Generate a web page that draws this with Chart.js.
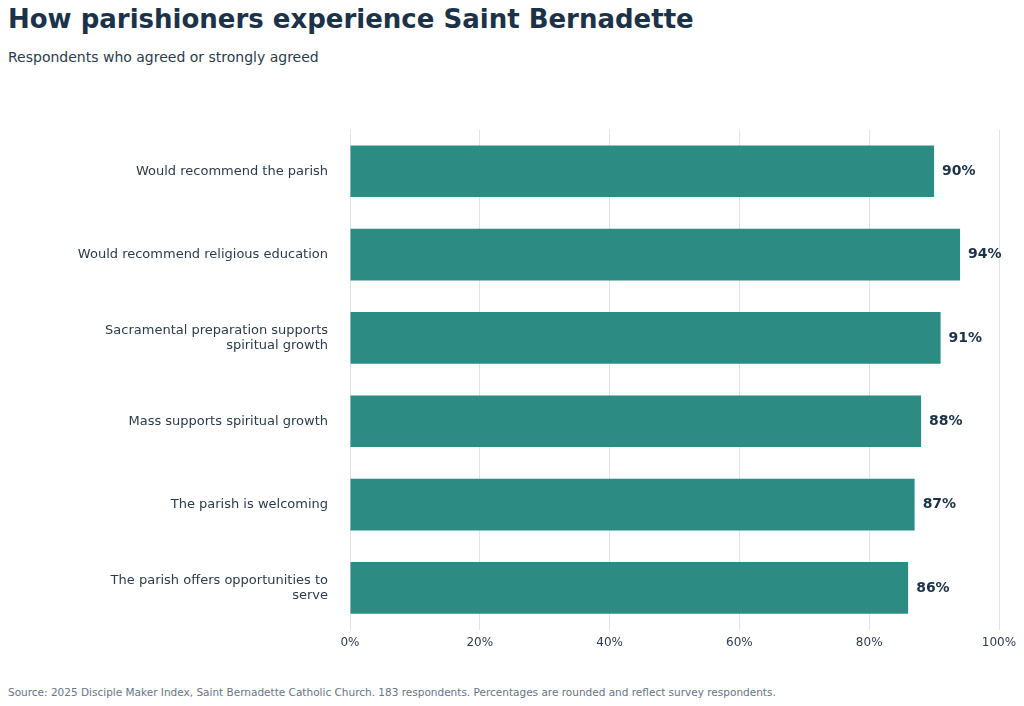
<!DOCTYPE html>
<html>
<head>
<meta charset="utf-8">
<script src="https://cdn.jsdelivr.net/npm/chart.js@4.4.1/dist/chart.umd.min.js"></script>
<style>
  body { margin:0; width:1024px; height:706px; background:#fff; font-family:"DejaVu Sans",sans-serif; overflow:hidden; position:relative; }
  #title { position:absolute; left:8px; top:4px; font-size:26px; font-weight:bold; color:#1b3249; }
  #sub { position:absolute; left:8px; top:49px; font-size:14px; color:#2b3b4c; }
  #wrap { position:absolute; left:0; top:100px; width:1024px; height:556px; }
  #foot { position:absolute; left:8px; top:686px; font-size:10.5px; color:#667584; }
</style>
</head>
<body>
<div id="title">How parishioners experience Saint Bernadette</div>
<div id="sub">Respondents who agreed or strongly agreed</div>
<div id="wrap"><canvas id="c"></canvas></div>
<div id="foot">Source: 2025 Disciple Maker Index, Saint Bernadette Catholic Church. 183 respondents. Percentages are rounded and reflect survey respondents.</div>
<script>
const categories = [
  "Would recommend the parish",
  "Would recommend religious education",
  ["Sacramental preparation supports", "spiritual growth"],
  "Mass supports spiritual growth",
  "The parish is welcoming",
  ["The parish offers opportunities to", "serve"]
];
const agreed = [90, 94, 91, 88, 87, 86];
const tickValues = [0, 20, 40, 60, 80, 100];

const valueLabels = {
  id: "valueLabels",
  afterDatasetsDraw(chart) {
    const ctx = chart.ctx;
    const meta = chart.getDatasetMeta(0);
    ctx.save();
    ctx.font = "bold 14px 'DejaVu Sans'";
    ctx.fillStyle = "#1b3249";
    ctx.textBaseline = "middle";
    meta.data.forEach((bar, i) => {
      ctx.fillText(agreed[i] + "%", bar.x + 8, bar.y);
    });
    ctx.restore();
  }
};

new Chart(document.getElementById("c"), {
  type: "bar",
  data: {
    labels: categories,
    datasets: [{
      data: agreed,
      backgroundColor: "#2c8c84",
      barPercentage: 0.62,
      categoryPercentage: 1
    }]
  },
  options: {
    indexAxis: "y",
    responsive: true,
    maintainAspectRatio: false,
    animation: false,
    layout: { padding: { top: 10, right: 25 } },
    plugins: { legend: { display: false }, tooltip: { enabled: false } },
    scales: {
      x: {
        min: 0, max: 100,
        afterBuildTicks(axis) { axis.ticks = tickValues.map(v => ({ value: v })); },
        ticks: { callback: v => v + "%", color: "#2b3b4c", font: { family: "DejaVu Sans", size: 12 }, padding: 6 },
        grid: { color: "#e3e3e3", drawTicks: false },
        border: { display: false }
      },
      y: {
        afterFit(axis) { axis.width = 350; },
        ticks: { color: "#2b3b4c", font: { family: "DejaVu Sans", size: 13 }, padding: 14 },
        grid: { display: false },
        border: { display: false }
      }
    }
  },
  plugins: [valueLabels]
});
</script>
</body>
</html>
